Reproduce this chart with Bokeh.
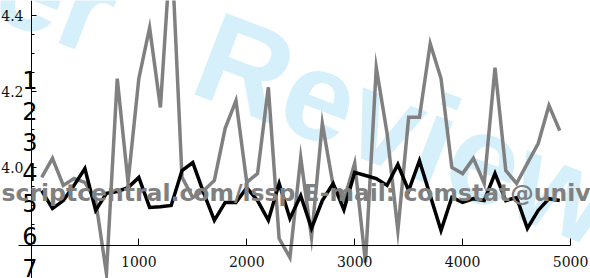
from bokeh.plotting import figure
from bokeh.models import Range1d, LinearAxis, FixedTicker, Label, NumeralTickFormatter
from bokeh.embed import file_html
from bokeh.resources import INLINE

# ---------------- data ----------------
x_vals = [100, 200, 300, 400, 500, 600, 700, 800, 900, 1000,
          1100, 1200, 1300, 1400, 1500, 1600, 1700, 1800, 1900, 2000,
          2100, 2200, 2300, 2400, 2500, 2600, 2700, 2800, 2900, 3000,
          3100, 3200, 3300, 3400, 3500, 3600, 3700, 3800, 3900, 4000,
          4100, 4200, 4300, 4400, 4500, 4600, 4700, 4800, 4900]

black_series = [3.939, 3.892, 3.913, 3.953, 3.997, 3.887, 3.932, 3.937, 3.947, 3.974,
                3.895, 3.897, 3.900, 3.992, 4.013, 3.934, 3.861, 3.908, 3.908, 3.947,
                3.913, 3.861, 3.958, 3.866, 3.926, 3.840, 3.913, 3.958, 3.889, 3.987,
                3.979, 3.971, 3.953, 4.008, 3.939, 4.018, 3.926, 3.834, 3.921, 3.908,
                3.918, 3.913, 3.984, 3.913, 3.921, 3.840, 3.887, 3.918, 3.913]

gray_series = [3.974, 4.024, 3.953, 3.971, 3.961, 3.913, 3.721, 4.234, 3.961, 4.234,
               4.368, 4.158, 4.597, 3.974, 3.921, 3.939, 3.966, 4.103, 4.176, 3.961,
               3.984, 4.211, 3.813, 3.763, 4.026, 3.816, 4.116, 3.953, 3.913, 4.011,
               3.750, 4.263, 4.090, 3.834, 4.132, 4.132, 4.326, 4.234, 4.000, 3.984,
               4.024, 3.958, 4.263, 3.992, 3.958, 4.011, 4.063, 4.163, 4.097]

x_ticks = [1000, 2000, 3000, 4000, 5000]
y_ticks = [4.0, 4.2, 4.4]
y_minor_ticks = [3.75, 3.8, 3.85, 3.9, 3.95, 4.05, 4.1, 4.15, 4.25, 4.3, 4.35]

line_numbers = ["1", "2", "3", "4", "5", "6", "7"]
watermark_left = "For Peer"
watermark_right = "Review"
footer_text = "uscriptcentral.com/lssp E-mail: comstat@univmail.cis.mcmaster.ca"

# ---------------- layout helpers (picture pixel -> data) ----------------
W, H = 590, 278
SX0, SXK = 30.4, 0.10793      # px of x=0, px per unit
SY0, SYK = 15.0, 380.0        # px of y=4.4, px per unit


def X(sx):
    return (sx - SX0) / SXK


def Y(sy):
    return 4.4 - (sy - SY0) / SYK


p = figure(width=W, height=H, output_backend="svg", toolbar_location=None,
           x_range=Range1d(X(0), X(W)), y_range=Range1d(Y(H), Y(0)),
           x_axis_type=None, y_axis_type=None, min_border=0)
p.outline_line_color = None
p.background_fill_color = "white"
p.border_fill_color = "white"

# watermark (below everything)
WM_ANGLE = -0.3665
WM_STYLE = dict(angle=WM_ANGLE, text_font="Liberation Sans", text_font_style="bold",
                text_font_size="127px", text_color="#d5f0fb",
                text_baseline="alphabetic", level="underlay")
p.add_layout(Label(x=X(202), y=Y(50), text=watermark_right, text_align="left", **WM_STYLE))
p.add_layout(Label(x=X(112), y=Y(16), text=watermark_left, text_align="right", **WM_STYLE))

# series
p.line(x_vals, gray_series, line_color="#808080", line_width=3.5, line_join="miter")
p.line(x_vals, black_series, line_color="black", line_width=3.5, line_join="miter")

# axes crossing inside the frame
xaxis = LinearAxis(fixed_location=Y(245), ticker=FixedTicker(ticks=x_ticks, minor_ticks=[]),
                   bounds=(X(18), 5000))
xaxis.major_tick_in = 7
xaxis.major_tick_out = 0
xaxis.minor_tick_in = 0
xaxis.minor_tick_out = 0
xaxis.axis_line_color = "black"
xaxis.major_tick_line_color = "black"
xaxis.major_label_text_font = "DejaVu Serif"
xaxis.major_label_text_font_size = "14px"
xaxis.major_label_text_color = "#111111"
xaxis.major_label_standoff = 10
p.add_layout(xaxis, "below")

yaxis = LinearAxis(fixed_location=X(31), ticker=FixedTicker(ticks=y_ticks, minor_ticks=y_minor_ticks),
                   formatter=NumeralTickFormatter(format="0.0"))
yaxis.major_tick_in = 5
yaxis.major_tick_out = 0
yaxis.minor_tick_in = 3
yaxis.minor_tick_out = 0
yaxis.axis_line_color = "black"
yaxis.major_tick_line_color = "black"
yaxis.minor_tick_line_color = "black"
yaxis.major_label_text_font = "DejaVu Serif"
yaxis.major_label_text_font_size = "14px"
yaxis.major_label_text_color = "#111111"
yaxis.major_label_standoff = 8
p.add_layout(yaxis, "left")

# manuscript line numbers
ln_base = [89, 120, 151, 181, 212, 245, 277]
for t, b in zip(line_numbers, ln_base):
    p.add_layout(Label(x=X(37), y=Y(b - 9.6), text=t, text_font="DejaVu Sans",
                       text_font_size="24px", text_color="black",
                       text_align="right", text_baseline="alphabetic"))

# footer overlay text
p.add_layout(Label(x=X(1 - 16.7), y=Y(192), text=footer_text, text_font="DejaVu Sans",
                   text_font_style="bold", text_font_size="23.5px", text_color="#808080",
                   text_align="left", text_baseline="alphabetic"))

open("out.html", "w").write(file_html(p, INLINE))
